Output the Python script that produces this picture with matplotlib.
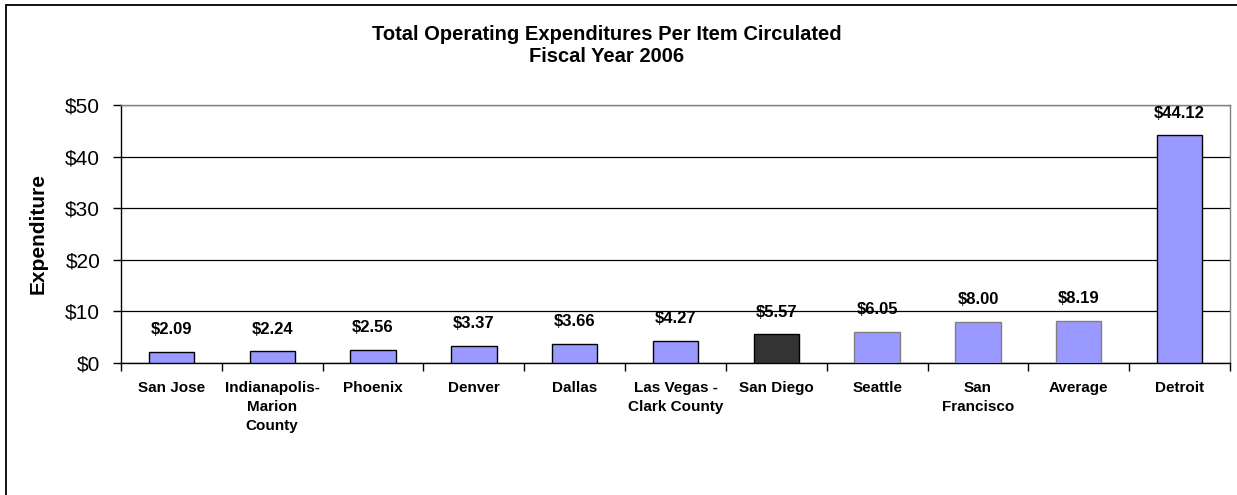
import matplotlib
matplotlib.use("Agg")
import matplotlib.pyplot as plt
from matplotlib.patches import Rectangle
from matplotlib.ticker import FuncFormatter, MultipleLocator

categories = ["San Jose", "Indianapolis-\nMarion\nCounty", "Phoenix", "Denver", "Dallas",
              "Las Vegas -\nClark County", "San Diego", "Seattle", "San\nFrancisco",
              "Average", "Detroit"]
values = [2.09, 2.24, 2.56, 3.37, 3.66, 4.27, 5.57, 6.05, 8.00, 8.19, 44.12]
value_labels = ["$2.09", "$2.24", "$2.56", "$3.37", "$3.66", "$4.27", "$5.57",
                "$6.05", "$8.00", "$8.19", "$44.12"]
bar_colors = ["#9999FF"] * 6 + ["#333333"] + ["#9999FF"] * 4
edge_colors = ["#000000"] * 7 + ["#808080"] * 3 + ["#000000"]

plt.rcParams['font.family'] = ['Liberation Sans', 'DejaVu Sans']

fig = plt.figure(figsize=(12.37, 4.95), dpi=100)
ax = fig.add_axes([121/1237, 1-363/495, (1230-121)/1237, (363-105)/495])

x = list(range(len(categories)))
ax.bar(x, values, width=0.45, color=bar_colors, edgecolor=edge_colors, linewidth=1.0, zorder=3)

for xi, v, lab in zip(x, values, value_labels):
    ax.annotate(lab, (xi, v), xytext=(0, 16), textcoords='offset points',
                ha='center', va='center', fontsize=12, fontweight='bold', zorder=4)

ax.set_xlim(-0.5, len(categories)-0.5)
ax.set_ylim(0, 50)
ax.yaxis.set_major_locator(MultipleLocator(10))
ax.yaxis.set_major_formatter(FuncFormatter(lambda v, p: f"${v:.0f}"))
ax.grid(axis='y', color='#000000', linewidth=0.9, zorder=0)
ax.set_axisbelow(True)

ax.set_xticks([i + 0.5 for i in range(-1, len(categories))], minor=True)
ax.set_xticks(x)
ax.set_xticklabels(categories, fontsize=11, fontweight='bold', linespacing=1.45, va='top')
ax.tick_params(axis='x', which='major', length=0, pad=13)
ax.tick_params(axis='x', which='minor', length=6, width=1, color='black', direction='out')
ax.tick_params(axis='y', length=6, width=1, direction='out', labelsize=15, pad=9)

for s in ['top', 'right']:
    ax.spines[s].set_color('#808080')
    ax.spines[s].set_linewidth(1)
for s in ['left', 'bottom']:
    ax.spines[s].set_color('#000000')
    ax.spines[s].set_linewidth(1)

ax.set_ylabel("Expenditure", fontsize=15, fontweight='bold')
ax.yaxis.set_label_coords((48-121)/(1230-121), 0.5)

fig.text(607/1237, 1-34/495, "Total Operating Expenditures Per Item Circulated",
         ha='center', va='center', fontsize=14.5, fontweight='bold')
fig.text(607/1237, 1-57/495, "Fiscal Year 2006",
         ha='center', va='center', fontsize=14.5, fontweight='bold')

fig.patches.append(Rectangle((6/1237, -0.05), 1.1, 1-5/495+0.05, transform=fig.transFigure,
                             fill=False, edgecolor='black', linewidth=1.3))

fig.savefig("out.png", dpi=100)
